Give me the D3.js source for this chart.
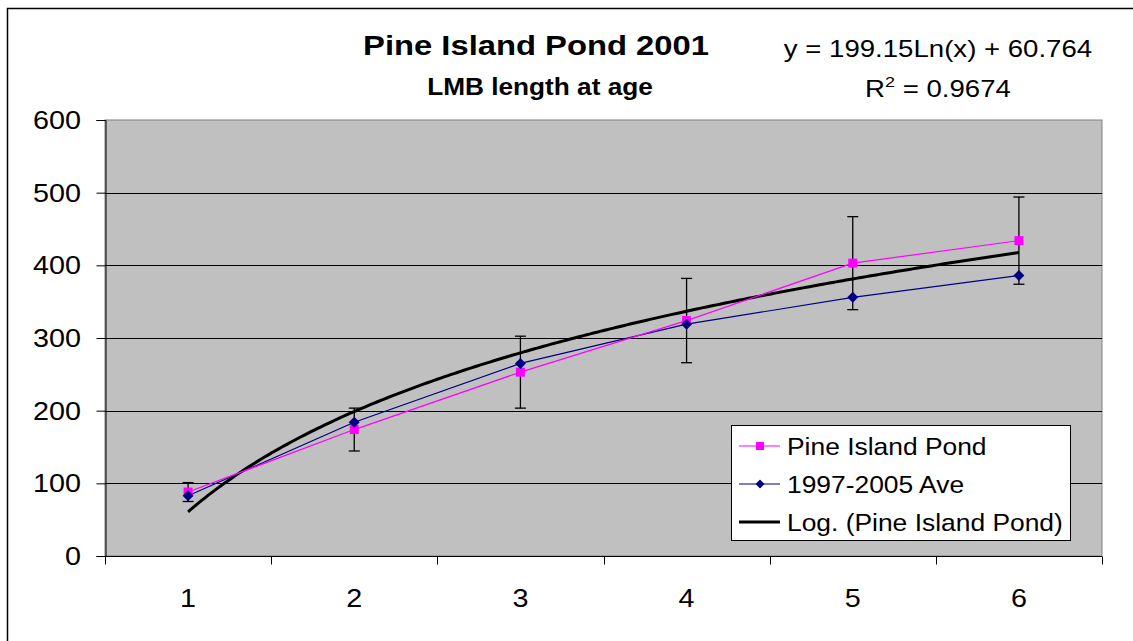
<!DOCTYPE html>
<html>
<head>
<meta charset="utf-8">
<script src="https://cdn.jsdelivr.net/npm/d3@7"></script>
<style>
  html, body { margin: 0; padding: 0; background: #fff; }
  svg { display: block; font-family: Arial, "Liberation Sans", sans-serif; }
</style>
</head>
<body>
<svg id="chart" width="1133" height="641"></svg>
<script>
const ages = [1, 2, 3, 4, 5, 6];
const pineIsland = [88, 174, 253, 324, 403, 434];
const average9705 = [83, 184, 265, 319, 356, 386];
const pineErr = [13, 29.5, 49.5, 58, 64, 60];
const yTicks = [0, 100, 200, 300, 400, 500, 600];
const trendA = 199.15, trendB = 60.764;
const legendLabels = ["Pine Island Pond", "1997-2005 Ave", "Log. (Pine Island Pond)"];

const svg = d3.select("#chart");
const W = 1133, H = 641;
const plot = { left: 105, right: 1102, top: 120, bottom: 556 };
const SX = 1.15; // horizontal stretch of the original's lettering

function addText(parent, x0, y0, str, size, anchor, weight, sx) {
  return parent.append("text")
    .attr("transform", `translate(${x0},${y0}) scale(${sx || SX},1)`)
    .attr("text-anchor", anchor || "start")
    .attr("font-size", size)
    .attr("font-weight", weight || "normal")
    .attr("fill", "#000")
    .text(str);
}

// outer border
svg.append("rect").attr("x", 7.5).attr("y", 8.5).attr("width", W + 10).attr("height", H + 10)
  .attr("fill", "#fff").attr("stroke", "#000").attr("stroke-width", 1.5);

const x = d3.scaleBand().domain(ages).range([plot.left, plot.right]).padding(0);
const y = d3.scaleLinear().domain([0, 600]).range([plot.bottom, plot.top]);
const cx = d => x(d) + x.bandwidth() / 2;

// plot area
svg.append("rect").attr("x", plot.left).attr("y", plot.top)
  .attr("width", plot.right - plot.left).attr("height", plot.bottom - plot.top)
  .attr("fill", "#C0C0C0").attr("stroke", "#808080").attr("stroke-width", 1);

// gridlines
svg.append("g").selectAll("line").data(yTicks.filter(t => t > 0 && t < 600)).join("line")
  .attr("x1", plot.left).attr("x2", plot.right)
  .attr("y1", d => Math.round(y(d)) + 0.5).attr("y2", d => Math.round(y(d)) + 0.5)
  .attr("stroke", "#000").attr("stroke-width", 1);

// y axis (ticks via d3 axis, labels redrawn stretched)
const yAxis = d3.axisLeft(y).tickValues(yTicks).tickSize(9).tickFormat("");
const gy = svg.append("g").attr("transform", `translate(${plot.left + 0.5},0)`).call(yAxis);
gy.select(".domain").attr("stroke", "#000");
gy.selectAll(".tick line").attr("stroke", "#000");
const gyl = svg.append("g");
yTicks.forEach(t => addText(gyl, 81, y(t) + 9, String(t), 25, "end"));

// x axis: ticks at category boundaries
const gx = svg.append("g").attr("transform", `translate(0,${plot.bottom + 0.5})`);
gx.append("line").attr("x1", plot.left).attr("x2", plot.right).attr("stroke", "#000");
const bounds = ages.map(a => x(a)).concat([plot.right]);
gx.selectAll("line.tk").data(bounds).join("line").attr("class", "tk")
  .attr("x1", d => Math.round(d) + 0.5).attr("x2", d => Math.round(d) + 0.5)
  .attr("y1", 0).attr("y2", 8).attr("stroke", "#000");
ages.forEach(a => addText(svg, cx(a), 607, String(a), 25, "middle"));

// trendline
const trendPts = d3.range(1, 6.0001, 0.02).map(t => [t, trendA * Math.log(t) + trendB]);
const xt = d3.scaleLinear().domain([1, 6]).range([cx(1), cx(6)]);
svg.append("path").datum(trendPts)
  .attr("d", d3.line().x(d => xt(d[0])).y(d => y(d[1])))
  .attr("fill", "none").attr("stroke", "#000").attr("stroke-width", 3);

// series lines
const line = d3.line().x((d, i) => cx(ages[i])).y(d => y(d));
svg.append("path").datum(average9705).attr("d", line)
  .attr("fill", "none").attr("stroke", "#000080").attr("stroke-width", 1.2);
svg.append("path").datum(pineIsland).attr("d", line)
  .attr("fill", "none").attr("stroke", "#FF00FF").attr("stroke-width", 1.2);

// error bars on Pine Island Pond
const eb = svg.append("g").attr("stroke", "#000").attr("stroke-width", 1.3);
ages.forEach((a, i) => {
  const xc = cx(a), top = y(pineIsland[i] + pineErr[i]), bot = y(pineIsland[i] - pineErr[i]);
  eb.append("line").attr("x1", xc).attr("x2", xc).attr("y1", top).attr("y2", bot);
  eb.append("line").attr("x1", xc - 5.5).attr("x2", xc + 5.5).attr("y1", top).attr("y2", top);
  eb.append("line").attr("x1", xc - 5.5).attr("x2", xc + 5.5).attr("y1", bot).attr("y2", bot);
});

// markers
svg.append("g").selectAll("rect").data(pineIsland).join("rect")
  .attr("x", (d, i) => cx(ages[i]) - 4.5).attr("y", d => y(d) - 4.5)
  .attr("width", 9).attr("height", 9).attr("fill", "#FF00FF");
const diamond = d3.symbol().type(d3.symbolSquare).size(60);
svg.append("g").selectAll("path").data(average9705).join("path")
  .attr("d", diamond)
  .attr("transform", (d, i) => `translate(${cx(ages[i])},${y(d)}) rotate(45)`)
  .attr("fill", "#000080");

// titles
addText(svg, 536, 55, "Pine Island Pond 2001", 28, "middle", "bold", 1.17);
addText(svg, 540, 95, "LMB length at age", 23, "middle", "bold", 1.14);

// equation
addText(svg, 938, 57, "y = 199.15Ln(x) + 60.764", 23, "middle", "normal", 1.2);
const r2 = addText(svg, 938, 97, "", 23, "middle", "normal", 1.2);
r2.append("tspan").text("R");
r2.append("tspan").attr("dy", -10).attr("font-size", 15).text("2");
r2.append("tspan").attr("dy", 10).text(" = 0.9674");

// legend
const lg = svg.append("g");
lg.append("rect").attr("x", 731.5).attr("y", 425.5).attr("width", 339).attr("height", 115)
  .attr("fill", "#fff").attr("stroke", "#000").attr("stroke-width", 1);
const rowY = [446, 484, 522];
lg.append("line").attr("x1", 739).attr("x2", 780).attr("y1", rowY[0]).attr("y2", rowY[0]).attr("stroke", "#FF00FF").attr("stroke-width", 1.2);
lg.append("rect").attr("x", 756).attr("y", rowY[0] - 4).attr("width", 8).attr("height", 8).attr("fill", "#FF00FF");
lg.append("line").attr("x1", 739).attr("x2", 780).attr("y1", rowY[1]).attr("y2", rowY[1]).attr("stroke", "#000080").attr("stroke-width", 1.2);
lg.append("path").attr("d", d3.symbol().type(d3.symbolSquare).size(40)).attr("transform", `translate(760,${rowY[1]}) rotate(45)`).attr("fill", "#000080");
lg.append("line").attr("x1", 739).attr("x2", 780).attr("y1", rowY[2]).attr("y2", rowY[2]).attr("stroke", "#000").attr("stroke-width", 3);
legendLabels.forEach((t, i) => addText(lg, 787, rowY[i] + 9, t, 24, "start", "normal", 1.1));
</script>
</body>
</html>
